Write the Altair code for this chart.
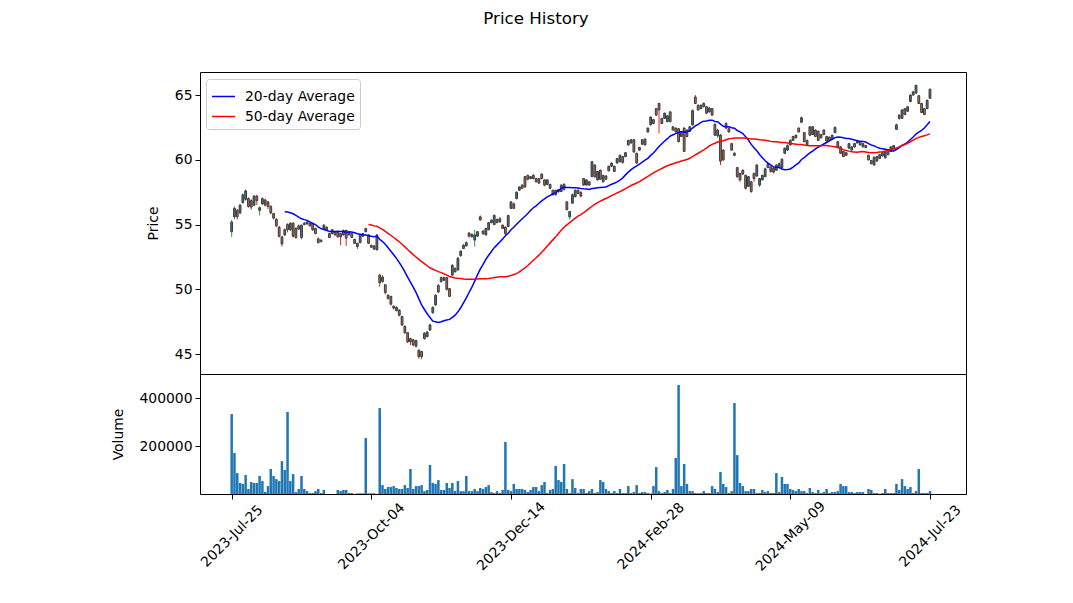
import altair as alt
import pandas as pd

tick_pos = [0, 50, 100, 150, 200, 250]
tick_labels = ["2023-Jul-25", "2023-Oct-04", "2023-Dec-14", "2024-Feb-28", "2024-May-09", "2024-Jul-23"]

open_ = [
54.45,55.6,56.1,55.9,56.7,56.95,57.0,56.85,56.5,57.2,56.1,56.6,56.9,56.75,56.4,55.85,55.4,54.8,54.05,54.2,
55.0,54.6,55.1,54.7,54.9,54.0,55.0,55.05,55.1,55.1,54.7,53.9,53.8,54.7,54.8,54.3,54.3,54.45,54.45,54.3,
54.2,54.55,54.2,54.3,53.85,53.3,53.6,54.1,54.45,54.2,53.4,53.35,53.05,51.1,50.6,50.35,49.55,49.45,48.7,48.35,
48.4,47.9,47.15,46.65,46.2,46.1,45.6,45.3,45.2,46.2,46.35,46.85,48.2,48.8,50.3,50.6,50.7,50.9,50.05,51.1,
51.6,51.5,52.6,53.15,53.35,54.35,54.05,53.8,54.1,55.6,54.5,54.2,54.6,55.15,55.0,55.4,55.2,54.95,54.8,54.85,
56.25,56.6,57.0,57.65,58.05,58.7,58.8,58.55,58.55,58.55,58.55,58.9,58.45,58.1,57.8,57.65,57.3,57.7,57.55,58.1,
56.75,55.6,56.65,57.15,57.65,57.5,58.55,58.05,58.3,58.7,59.6,58.45,59.2,58.3,58.75,59.15,59.5,59.5,59.75,59.85,
60.25,60.25,61.15,61.3,61.55,60.5,60.75,61.2,61.6,62.15,62.7,63.1,63.95,64.35,63.2,63.2,62.95,63.7,62.55,62.45,
62.4,61.8,62.45,62.3,62.2,62.7,64.85,64.2,63.95,64.1,64.1,63.7,63.95,62.75,61.85,61.9,60.75,62.8,62.4,61.25,
60.35,59.4,58.95,58.9,58.8,57.95,58.3,58.95,58.75,58.05,58.45,58.7,59.4,59.45,59.35,59.2,59.4,59.4,60.5,60.75,
61.15,61.8,61.7,62.45,62.9,62.1,61.15,62.55,61.95,62.3,62.2,61.7,62.3,61.8,61.75,61.6,62.1,61.4,61.0,60.65,
60.35,60.9,60.75,61.25,61.3,61.4,61.0,61.1,60.35,59.95,59.6,60.25,60.1,60.3,60.15,60.4,60.65,60.85,62.35,63.45,
63.2,63.95,63.75,64.5,65.0,65.15,64.95,64.35,63.95,63.95,64.75]

close = [
55.2,56.25,55.6,56.5,57.3,57.6,56.4,56.35,57.2,56.85,56.3,57.0,56.5,56.4,55.9,55.5,54.9,54.1,53.5,54.6,
54.6,55.1,54.1,54.0,54.65,54.95,55.1,55.2,54.9,54.6,54.3,53.6,53.7,54.95,54.6,54.0,54.6,54.2,54.05,54.05,
54.55,53.95,54.45,54.0,53.55,53.55,54.2,54.3,54.7,53.55,53.25,53.1,54.2,50.5,50.95,49.75,49.3,48.85,48.55,48.6,
48.0,47.25,46.65,45.95,45.95,45.7,46.05,44.8,44.8,46.6,46.7,47.25,48.6,49.55,49.8,50.9,50.9,50.0,49.45,51.85,
51.35,52.4,52.95,53.4,53.6,54.1,54.25,54.2,54.45,55.35,54.3,54.7,55.15,55.35,55.7,55.15,55.45,54.7,54.3,55.7,
56.75,56.25,57.5,57.9,57.8,57.9,58.5,58.7,58.8,58.3,58.2,58.55,58.05,58.45,58.1,57.3,57.65,57.55,58.05,57.7,
56.15,56.0,57.3,57.65,57.4,57.2,58.05,58.45,58.05,59.85,58.7,59.1,58.5,58.8,58.5,59.5,59.75,59.1,60.1,60.35,
59.8,60.55,61.5,61.55,60.6,59.75,60.95,61.55,61.15,62.45,63.3,62.8,63.45,63.85,62.8,63.6,63.4,62.95,62.3,62.15,
61.4,62.15,60.65,61.8,62.55,63.8,64.35,63.85,64.2,64.35,63.6,64.0,63.45,61.9,62.3,59.9,60.0,62.45,62.15,60.75,
60.5,58.7,58.45,59.2,57.8,58.7,57.55,58.55,59.6,58.55,58.8,59.3,59.7,59.1,59.05,59.6,59.7,60.05,60.9,61.1,
61.5,61.5,61.9,62.15,63.25,61.4,61.5,61.9,62.55,61.8,61.5,61.95,61.95,61.45,61.5,61.9,62.5,61.0,60.5,60.25,
60.55,61.25,61.0,61.0,61.5,61.15,61.25,60.95,60.0,59.7,60.2,59.9,60.4,60.55,60.6,60.8,61.0,61.1,62.7,63.2,
63.85,63.5,64.1,65.0,65.25,65.75,64.35,63.65,63.5,64.6,65.45]

high = [
55.35,56.4,56.2,56.6,57.4,57.7,57.1,56.95,57.3,57.3,56.4,57.1,57.0,56.8,56.5,55.9,55.5,54.9,54.1,54.7,
55.1,55.2,55.2,54.8,55.0,55.0,55.2,55.25,55.15,55.15,54.75,54.0,53.85,55.05,54.85,54.35,54.65,54.5,54.5,54.35,
54.6,54.6,54.5,54.35,53.9,53.6,54.25,54.35,54.75,54.25,53.45,53.4,54.25,51.2,51.1,50.4,49.6,49.5,48.75,48.7,
48.45,47.95,47.2,46.7,46.25,46.15,46.1,45.35,45.25,46.7,46.8,47.35,48.7,49.6,50.4,51.0,51.0,50.95,50.1,51.95,
51.7,52.5,53.0,53.5,53.7,54.4,54.3,54.6,54.5,55.7,54.55,54.75,55.2,55.4,55.8,55.45,55.6,55.0,54.85,55.75,
56.8,56.7,57.55,57.95,58.1,58.75,58.85,58.75,58.9,58.6,58.6,58.95,58.5,58.5,58.15,57.7,57.7,57.75,58.1,58.2,
56.8,56.05,57.4,57.7,57.7,57.55,58.6,58.5,58.35,59.9,59.65,59.15,59.25,58.85,58.8,59.55,59.8,59.55,60.15,60.4,
60.3,60.6,61.55,61.6,61.6,60.55,61.0,61.6,61.65,62.5,63.35,63.15,64.0,64.4,63.25,63.65,63.45,63.75,62.6,62.5,
62.45,62.2,62.5,62.35,62.6,63.9,65.0,64.3,64.3,64.45,64.15,64.1,64.0,62.8,62.4,62.0,60.8,62.9,62.5,61.3,
60.6,59.45,59.0,59.25,58.85,58.75,58.35,59.0,59.65,58.6,58.85,59.4,59.75,59.5,59.4,59.65,59.8,60.1,60.95,61.2,
61.6,61.85,61.95,62.5,63.35,62.15,61.55,62.6,62.6,62.35,62.25,62.0,62.35,61.85,61.8,61.95,62.6,61.45,61.05,60.7,
60.6,61.3,61.05,61.3,61.55,61.45,61.3,61.15,60.4,60.0,60.25,60.3,60.45,60.6,60.65,60.85,61.05,61.15,62.8,63.5,
63.9,64.0,64.15,65.05,65.3,65.8,65.0,64.4,64.0,64.65,65.5]

low = [
54.05,55.4,55.4,55.8,56.6,56.85,56.3,56.15,56.4,56.5,55.7,56.5,56.4,56.2,55.8,55.4,54.8,54.0,53.3,54.1,
54.4,54.5,54.0,53.9,54.6,53.85,54.95,55.0,54.85,54.5,54.25,53.55,53.6,54.65,54.55,53.95,54.25,54.15,54.0,53.4,
54.15,53.35,54.15,53.95,53.5,53.1,53.55,54.05,54.4,53.5,53.2,53.05,53.0,50.2,50.5,49.6,49.2,48.75,48.45,48.3,
47.9,47.15,46.55,45.85,45.7,45.6,45.5,44.65,44.6,46.1,46.3,46.8,48.1,48.7,49.7,50.5,50.65,49.9,49.4,51.0,
51.3,51.4,52.5,53.1,53.3,54.0,54.0,53.3,54.05,55.3,54.2,54.15,54.55,55.1,54.95,55.1,55.15,54.65,54.2,54.8,
56.2,56.2,56.95,57.6,57.75,57.85,58.4,58.5,58.5,58.25,58.15,58.5,57.95,58.05,57.75,57.25,57.25,57.45,57.5,57.65,
56.1,55.4,56.6,57.1,57.35,57.1,58.0,58.0,58.0,58.65,58.6,58.4,58.45,58.25,58.45,59.1,59.45,59.05,59.7,59.8,
59.7,60.2,61.1,61.25,60.55,59.7,60.7,61.15,61.1,62.1,62.65,62.75,63.4,62.05,62.75,63.15,62.9,62.9,62.25,62.1,
61.35,61.75,60.6,61.75,62.15,62.6,64.3,63.8,63.9,64.05,63.55,63.65,63.4,61.85,61.7,59.6,59.9,62.35,62.1,60.7,
60.3,58.6,58.3,58.85,57.7,57.9,57.45,58.3,58.7,57.9,58.4,58.65,59.35,59.0,58.95,59.15,59.35,59.35,60.45,60.7,
61.1,61.45,61.65,62.1,62.85,61.35,61.1,61.85,61.9,61.75,61.45,61.65,61.9,61.4,61.45,61.55,62.05,60.95,60.45,60.2,
60.3,60.85,60.7,60.95,61.25,61.1,60.95,60.9,59.95,59.65,59.55,59.85,60.05,60.25,60.1,60.35,60.6,60.8,62.3,63.1,
63.15,63.45,63.7,64.45,64.95,65.1,64.3,63.6,63.45,63.9,64.7]

volume = [
333000,171000,87000,46000,42000,79000,21000,50000,46000,46000,75000,54000,8000,33000,104000,75000,62000,54000,137000,100000,
342000,54000,83000,8000,21000,75000,21000,12000,4000,4000,12000,21000,4000,17000,0,0,0,0,17000,12000,
17000,17000,4000,4000,0,3000,3000,3000,233000,3000,3000,3000,0,358000,37000,21000,29000,29000,33000,25000,
21000,21000,37000,25000,104000,21000,33000,33000,37000,12000,17000,121000,46000,42000,58000,17000,17000,46000,25000,46000,
12000,54000,12000,12000,75000,12000,12000,21000,12000,25000,21000,29000,37000,8000,4000,12000,4000,17000,217000,17000,
12000,42000,21000,21000,21000,17000,8000,17000,29000,29000,12000,37000,50000,4000,17000,21000,117000,58000,50000,125000,
21000,4000,62000,25000,4000,21000,21000,4000,12000,21000,4000,8000,58000,50000,21000,12000,4000,12000,4000,21000,
4000,4000,33000,4000,8000,37000,4000,8000,8000,4000,2000,33000,112000,12000,4000,8000,17000,4000,21000,150000,
454000,33000,125000,42000,12000,12000,4000,3000,4000,12000,4000,4000,33000,21000,8000,92000,42000,29000,4000,12000,
379000,162000,46000,33000,12000,12000,21000,21000,4000,4000,17000,8000,12000,4000,4000,87000,8000,71000,42000,42000,
21000,17000,12000,21000,12000,12000,4000,25000,8000,4000,17000,4000,8000,21000,4000,8000,8000,12000,42000,33000,
33000,8000,8000,4000,8000,8000,8000,0,21000,17000,4000,4000,1000,4000,21000,4000,4000,4000,42000,17000,
62000,33000,21000,29000,4000,12000,104000,4000,4000,4000,12000]

df = pd.DataFrame({"idx": list(range(len(close))), "open": open_, "high": high,
                   "low": low, "close": close, "volume": volume})

W, HP, HV = 766, 302, 120
H = HP + HV
FONT = "DejaVu Sans"
FS = 13.9

label_expr = " : ".join(f"datum.value == {p} ? '{l}'" for p, l in zip(tick_pos, tick_labels)) + " : ''"

x_scale = alt.Scale(domain=[-11.34, 262.9], nice=False, zero=False)
x_axis = alt.Axis(values=tick_pos, labelExpr=label_expr, title=None, labelAngle=-45,
                  labelAlign="center", labelBaseline="middle", labelPadding=37,
                  tickSize=5, tickColor="black", tickWidth=1, domain=False, grid=False,
                  labelFlush=False, labelOverlap=False, labelBound=False,
                  labelFontSize=FS, labelColor="black")

p_scale = alt.Scale(domain=[43.46, 66.78], range=[HP, 0], nice=False, zero=False)
p_axis = alt.Axis(orient="left", values=[45, 50, 55, 60, 65], title="Price", tickSize=5, tickColor="black",
                  domain=False, grid=False, labelFontSize=FS, labelColor="black", labelPadding=3,
                  titleFontSize=FS, titleFontWeight="normal", titleColor="black",
                  titleX=-47, titleY=HP / 2, titleBaseline="middle", titleAngle=-90, titleAlign="center")

v_scale = alt.Scale(domain=[0, 500000], range=[H, HP], nice=False, zero=False)
v_axis = alt.Axis(orient="left", values=[200000, 400000], format="d", title="Volume", tickSize=5,
                  tickColor="black", domain=False, grid=False, labelFontSize=FS, labelColor="black",
                  labelPadding=3, titleFontSize=FS, titleFontWeight="normal", titleColor="black",
                  titleX=-82, titleY=HP + HV / 2, titleBaseline="middle", titleAngle=-90, titleAlign="center")

base = alt.Chart(df).transform_calculate(x0="datum.idx - 0.32", x1="datum.idx + 0.32",
                                         v0="datum.idx - 0.45", v1="datum.idx + 0.45")

up = "datum.close >= datum.open"

wick = base.mark_rule(strokeWidth=1).encode(
    x=alt.X("idx:Q", scale=x_scale, axis=x_axis),
    y=alt.Y("low:Q", scale=p_scale, axis=p_axis),
    y2="high:Q",
    color=alt.condition(up, alt.value("#2ca02c"), alt.value("#d62728")),
)

body = base.mark_rect(stroke="#3a3a3a", strokeWidth=1).encode(
    x=alt.X("x0:Q", scale=x_scale, axis=x_axis),
    x2="x1:Q",
    y=alt.Y("open:Q", scale=p_scale, axis=p_axis),
    y2="close:Q",
    fill=alt.condition(up, alt.value("#4f6f94"), alt.value("#b07050")),
)

ma = alt.Chart(df).transform_window(
    ma20="mean(close)", frame=[-19, 0], sort=[alt.SortField("idx")]
).transform_window(
    ma50="mean(close)", frame=[-49, 0], sort=[alt.SortField("idx")]
).transform_fold(["ma20", "ma50"], as_=["key", "value"]).transform_filter(
    "(datum.key == 'ma20' && datum.idx >= 19) || (datum.key == 'ma50' && datum.idx >= 49)"
).transform_calculate(
    series="datum.key == 'ma20' ? '20-day Average' : '50-day Average'"
).mark_line(strokeWidth=1.5).encode(
    x=alt.X("idx:Q", scale=x_scale, axis=x_axis),
    y=alt.Y("value:Q", scale=p_scale, axis=p_axis),
    color=alt.Color("series:N",
                    scale=alt.Scale(domain=["20-day Average", "50-day Average"], range=["blue", "red"]),
                    legend=alt.Legend(title=None, orient="none", legendX=6, legendY=7,
                                      symbolType="stroke", symbolStrokeWidth=1.5, symbolSize=529,
                                      labelFontSize=FS, labelColor="black", padding=5,
                                      strokeColor="#cccccc", fillColor="white", cornerRadius=3,
                                      rowPadding=-3, labelOffset=9)),
)

price = alt.layer(wick, body, ma)

vol = base.mark_rect(color="#1f77b4").encode(
    x=alt.X("v0:Q", scale=x_scale, axis=x_axis),
    x2="v1:Q",
    y=alt.Y("volume:Q", scale=v_scale, axis=v_axis),
    y2=alt.datum(0),
)

sep = alt.Chart(pd.DataFrame({"a": [0]})).mark_rule(color="black", strokeWidth=1).encode(
    x=alt.value(0), x2=alt.value(W), y=alt.value(HP + 0.5)
)

chart = alt.layer(price, vol, sep).resolve_scale(y="independent").resolve_axis(y="independent").properties(
    width=W, height=H,
    title=alt.TitleParams("Price History", fontSize=16.7, font=FONT, fontWeight="normal",
                          anchor="middle", frame="group", dx=-47, offset=44, color="black"),
    autosize=alt.AutoSizeParams(type="none"),
    padding={"left": 192, "top": 64, "right": 90, "bottom": 90},
).configure(font=FONT).configure_view(stroke="black", strokeWidth=1)

chart.save("out.html", embed_options={"renderer": "svg", "actions": False})
